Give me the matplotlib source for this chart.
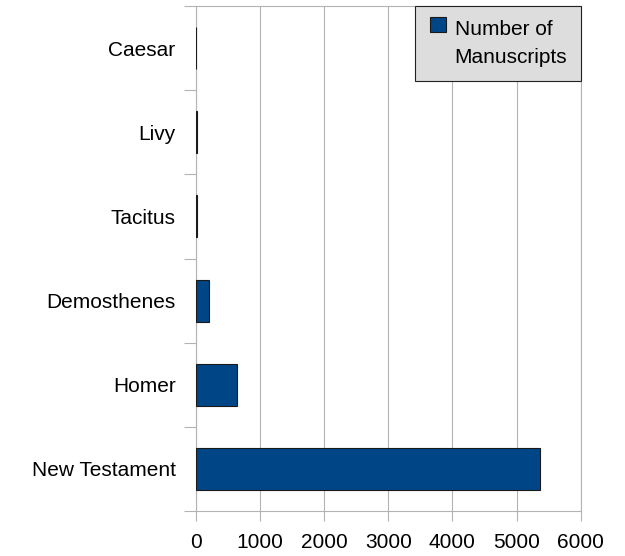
import numpy as np
import matplotlib.pyplot as plt
from matplotlib.patches import Rectangle
from matplotlib.legend_handler import HandlerPatch

plt.rcParams['font.family'] = ['Liberation Sans', 'DejaVu Sans']

# Daten (von oben nach unten)
works = ['Caesar', 'Livy', 'Tacitus', 'Demosthenes', 'Homer', 'New Testament']
manuscripts = [10, 20, 20, 200, 643, 5366]
xticks = [0, 1000, 2000, 3000, 4000, 5000, 6000]

bar_color = '#004586'
grid_color = '#b3b3b3'
fs = 15

fig = plt.figure(figsize=(6.25, 5.56), dpi=100)
ax = fig.add_axes([0.3131, 0.0809, 0.9291 - 0.3131, 0.9892 - 0.0809])

y = np.arange(len(works))
bars = ax.barh(y, manuscripts, height=0.5, color=bar_color, edgecolor='#1a1a1a',
               linewidth=0.8, zorder=3)

ax.set_xlim(0, 6000)
ax.set_ylim(len(works) - 0.5, -0.5)
ax.set_xticks(xticks)
ax.set_xticklabels([str(t) for t in xticks], fontsize=fs)
ax.set_yticks(y)
ax.set_yticklabels(works, fontsize=fs)
ax.set_yticks(np.arange(len(works) + 1) - 0.5, minor=True)

ax.tick_params(axis='y', which='major', length=0, pad=14.5)
ax.tick_params(axis='y', which='minor', length=8.6, width=0.8, color=grid_color)
ax.tick_params(axis='x', which='major', length=7.5, width=0.8, color=grid_color, pad=8)

ax.grid(axis='x', color=grid_color, linewidth=0.8, zorder=0)
for s in ax.spines.values():
    s.set_color(grid_color)
    s.set_linewidth(0.8)


# Legenden-Symbol auf Höhe der ersten Zeile
def top_square(legend, orig_handle, xdescent, ydescent, width, height, fontsize):
    return Rectangle((-xdescent, -ydescent + 14), width, height)


leg = ax.legend([bars[0]], ['Number of\nManuscripts'], loc='upper right',
                bbox_to_anchor=(1.002, 1.0), borderaxespad=0,
                fontsize=fs, fancybox=False, framealpha=1, facecolor='#dddddd',
                edgecolor='#222222', handlelength=0.77, handleheight=0.77,
                handletextpad=0.43, borderpad=0.68,
                handler_map={type(bars[0]): HandlerPatch(patch_func=top_square)})
leg.get_frame().set_linewidth(0.8)
leg.get_texts()[0].set_linespacing(1.6)
leg.set_zorder(5)

fig.savefig('out.png', dpi=100)
